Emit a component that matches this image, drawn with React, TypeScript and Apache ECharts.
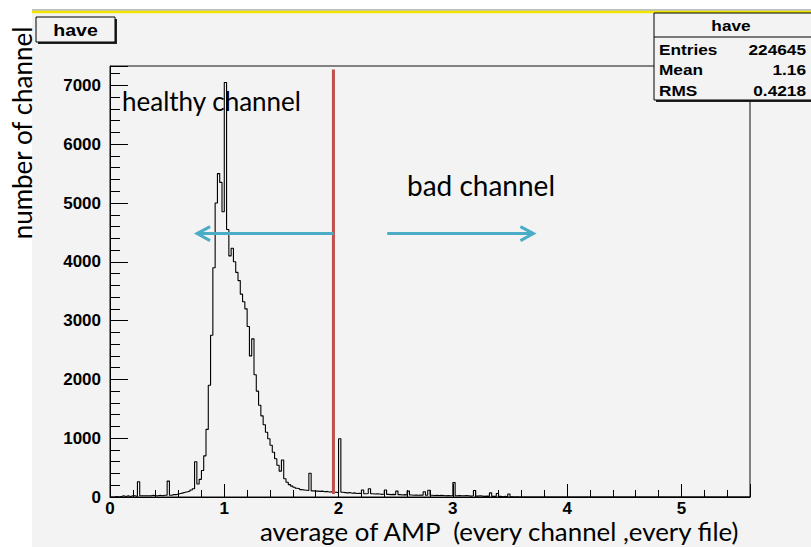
import React, { useEffect, useRef } from "react";
import * as echarts from "echarts";

// Histogram: bin width 0.02, bins starting at x = 0
const BIN_WIDTH = 0.02;
const counts: number[] = [
  0, 0, 10, 0, 10, 20, 10, 20, 10, 20, 20, 10,
  260,
  20, 20, 20, 20, 20, 30, 20, 20, 30, 20, 30, 30,
  270,
  30, 40, 40, 50, 60, 70, 80, 90, 100, 120, 140,
  600,
  220, 300, 450, 700, 1150, 1900, 2750, 3900, 5000, 5500, 5350, 4850,
  7050,
  4550, 4100, 4230, 4000, 3820, 3680, 3450, 3320, 3200, 2900, 2400,
  2690,
  2080, 1800, 1560, 1380, 1230, 1100, 990, 880, 760, 650, 540, 440,
  630,
  310, 250, 210, 185, 165, 150, 140, 125, 120, 115, 110,
  405,
  105, 100, 100, 95, 100, 90, 95, 85, 90, 80, 80, 75,
  990,
  80, 75, 70, 75, 65, 70, 60, 65, 60,
  120,
  55, 60,
  140,
  55, 50, 55, 50, 45, 50,
  120,
  45, 40, 45, 40,
  100,
  40, 35, 40, 35,
  100,
  35, 30, 35, 30, 35, 30,
  90,
  30,
  115,
  30, 25, 30, 25, 30, 25, 20, 25, 20, 25,
  245,
  20, 25, 20, 20, 25, 20, 15, 20,
  110,
  15, 20, 15, 10, 15, 10,
  70,
  10, 10,
  60,
  10, 5, 10, 5,
  50,
  5, 0, 5, 0, 0,
];

const X_MIN = 0;
const X_MAX = 5.6;
const Y_MIN = 0;
const Y_MAX = 7330;
const X_MAJOR = 1;
const X_MINOR = 0.2;
const Y_MAJOR = 1000;
const Y_MINOR = 200;

const cutX = 1.955;
const cutYRange = [50, 7270];
const arrowY = 4480;
const leftArrowX = [1.955, 0.762];
const rightArrowX = [2.426, 3.705];

const histTitle = "have";
const statsRows: [string, string][] = [
  ["Entries", "224645"],
  ["Mean", "1.16"],
  ["RMS", "0.4218"],
];
const xTitle = "average of AMP  (every channel ,every file)";
const yTitle = "number of channel";
const leftNote = "healthy channel";
const rightNote = "bad channel";

const BG = "#f3f3f3";
const RED = "#c0504d";
const BLUE = "#4bacc6";
const ROOT_FONT = "'Liberation Sans', Arial, sans-serif";
const NOTE_FONT = "Lato, 'Open Sans', sans-serif";

export default function App() {
  const ref = useRef<HTMLDivElement>(null);

  useEffect(() => {
    document.body.style.margin = "0";
    if (!ref.current) return;
    const chart = echarts.init(ref.current, null, { renderer: "svg" });

    const histData: number[][] = counts.map((c, i) => [
      +(i * BIN_WIDTH).toFixed(2),
      c,
    ]);
    histData.push([+(counts.length * BIN_WIDTH).toFixed(2), 0]);
    histData.push([X_MAX, 0]);

    const labelStyle = {
      color: "#000",
      fontFamily: ROOT_FONT,
      fontWeight: "bold" as const,
      fontSize: 17,
    };

    const option: any = {
      animation: false,
      backgroundColor: "#ffffff",
      grid: {
        left: 110,
        right: 61,
        top: 66,
        bottom: 50,
        show: true,
        borderColor: "#111",
        borderWidth: 1,
        backgroundColor: "transparent",
        containLabel: false,
        outerBoundsMode: "none",
      },
      xAxis: [
        {
          type: "value",
          min: X_MIN,
          max: X_MAX,
          interval: X_MAJOR,
          position: "bottom",
          axisLine: { show: true, lineStyle: { color: "#000", width: 1 } },
          axisTick: { show: true, inside: true, length: 13, lineStyle: { color: "#000" } },
          axisLabel: {
            ...labelStyle,
            margin: 3,
            formatter: (v: number) =>
              Math.abs(v - Math.round(v)) < 1e-6 ? String(Math.round(v)) : "",
          },
          splitLine: { show: false },
        },
        {
          type: "value",
          min: X_MIN,
          max: X_MAX,
          interval: X_MINOR,
          position: "bottom",
          axisLine: { show: false },
          axisTick: { show: true, inside: true, length: 7, lineStyle: { color: "#000" } },
          axisLabel: { show: false },
          splitLine: { show: false },
        },
      ],
      yAxis: [
        {
          type: "value",
          min: Y_MIN,
          max: Y_MAX,
          interval: Y_MAJOR,
          position: "left",
          axisLine: { show: true, lineStyle: { color: "#000", width: 1 } },
          axisTick: { show: true, inside: true, length: 18, lineStyle: { color: "#000" } },
          axisLabel: {
            ...labelStyle,
            margin: 9,
            formatter: (v: number) => (v % Y_MAJOR === 0 ? String(v) : ""),
          },
          splitLine: { show: false },
        },
        {
          type: "value",
          min: Y_MIN,
          max: Y_MAX,
          interval: Y_MINOR,
          position: "left",
          axisLine: { show: false },
          axisTick: { show: true, inside: true, length: 10, lineStyle: { color: "#000" } },
          axisLabel: { show: false },
          splitLine: { show: false },
        },
      ],
      series: [
        {
          type: "line",
          name: histTitle,
          xAxisIndex: 0,
          yAxisIndex: 0,
          data: histData,
          step: "end",
          symbol: "none",
          lineStyle: { color: "#000", width: 1.1 },
          z: 3,
        },
        {
          type: "line",
          xAxisIndex: 0,
          yAxisIndex: 0,
          data: [
            [cutX, cutYRange[0]],
            [cutX, cutYRange[1]],
          ],
          symbol: "none",
          lineStyle: { color: RED, width: 3 },
          z: 4,
        },
        {
          type: "line",
          xAxisIndex: 0,
          yAxisIndex: 0,
          data: [
            [leftArrowX[0], arrowY],
            [leftArrowX[1], arrowY],
          ],
          symbol: "none",
          lineStyle: { color: BLUE, width: 3 },
          z: 5,
        },
        {
          type: "line",
          xAxisIndex: 0,
          yAxisIndex: 0,
          data: [
            [rightArrowX[0], arrowY],
            [rightArrowX[1], arrowY],
          ],
          symbol: "none",
          lineStyle: { color: BLUE, width: 3 },
          z: 5,
        },
      ],
    };

    chart.setOption(option);

    const toPx = (p: number[]) =>
      chart.convertToPixel({ xAxisIndex: 0, yAxisIndex: 0 }, p) as number[];
    const lt = toPx([leftArrowX[1], arrowY]);
    const rt = toPx([rightArrowX[1], arrowY]);
    const chevron = (tip: number[], dir: number) => ({
      type: "polyline",
      z: 10,
      shape: {
        points: [
          [tip[0] + dir * 13, tip[1] - 7],
          [tip[0], tip[1]],
          [tip[0] + dir * 13, tip[1] + 7],
        ],
      },
      style: { stroke: BLUE, lineWidth: 3, fill: "none", lineJoin: "miter" },
    });

    const statsText = (
      text: string,
      x: number,
      y: number,
      align: string
    ) => ({
      type: "text",
      x,
      y,
      scaleX: 1.15,
      z: 20,
      style: {
        text,
        fill: "#000",
        font: `bold 15px ${ROOT_FONT}`,
        align,
        verticalAlign: "middle",
      },
    });

    const noteText = (
      text: string,
      x: number,
      y: number,
      size: number,
      extra: any = {}
    ) => ({
      type: "text",
      x,
      y,
      z: 12,
      ...extra,
      style: {
        text,
        fill: "#000",
        font: `${size}px ${NOTE_FONT}`,
        align: extra.rotation ? "center" : "left",
        verticalAlign: "middle",
      },
    });

    const graphic: any[] = [
      {
        type: "rect",
        z: -100,
        shape: { x: 32, y: 13, width: 779, height: 534 },
        style: { fill: BG },
      },
      {
        type: "line",
        z: -90,
        shape: { x1: 32, y1: 10, x2: 811, y2: 10 },
        style: { stroke: "#808080", lineWidth: 1 },
      },
      {
        type: "line",
        z: -90,
        shape: { x1: 32, y1: 12, x2: 811, y2: 12 },
        style: { stroke: "#f2e600", lineWidth: 2.5 },
      },
      // title box
      {
        type: "rect",
        z: 15,
        shape: { x: 38, y: 19, width: 79, height: 25 },
        style: { fill: "#222" },
      },
      {
        type: "rect",
        z: 16,
        shape: { x: 36, y: 17, width: 79, height: 25 },
        style: { fill: BG, stroke: "#000", lineWidth: 1 },
      },
      {
        type: "text",
        x: 75.5,
        y: 30,
        scaleX: 1.15,
        z: 20,
        style: {
          text: histTitle,
          fill: "#000",
          font: `bold 17px ${ROOT_FONT}`,
          align: "center",
          verticalAlign: "middle",
        },
      },
      // stats box
      {
        type: "rect",
        z: 15,
        shape: { x: 656, y: 15, width: 160, height: 87 },
        style: { fill: "#222" },
      },
      {
        type: "rect",
        z: 16,
        shape: { x: 654, y: 13, width: 160, height: 87 },
        style: { fill: BG, stroke: "#000", lineWidth: 1 },
      },
      {
        type: "line",
        z: 17,
        shape: { x1: 654, y1: 37, x2: 811, y2: 37 },
        style: { stroke: "#000", lineWidth: 1 },
      },
      statsText(histTitle, 731, 25.5, "center"),
      ...statsRows.flatMap((row, i) => [
        statsText(row[0], 659, 49 + i * 20.5, "left"),
        statsText(row[1], 806, 49 + i * 20.5, "right"),
      ]),
      // annotations
      noteText(leftNote, 122, 100.5, 26),
      noteText(rightNote, 407, 185, 28),
      noteText(xTitle, 260, 531.5, 25, { scaleX: 1.035 }),
      noteText(yTitle, 21.5, 133, 26, { rotation: Math.PI / 2 }),
      chevron(lt, 1),
      chevron(rt, -1),
    ];

    chart.setOption({ graphic });

    return () => {
      chart.dispose();
    };
  }, []);

  return <div ref={ref} style={{ width: 811, height: 547 }} />;
}
